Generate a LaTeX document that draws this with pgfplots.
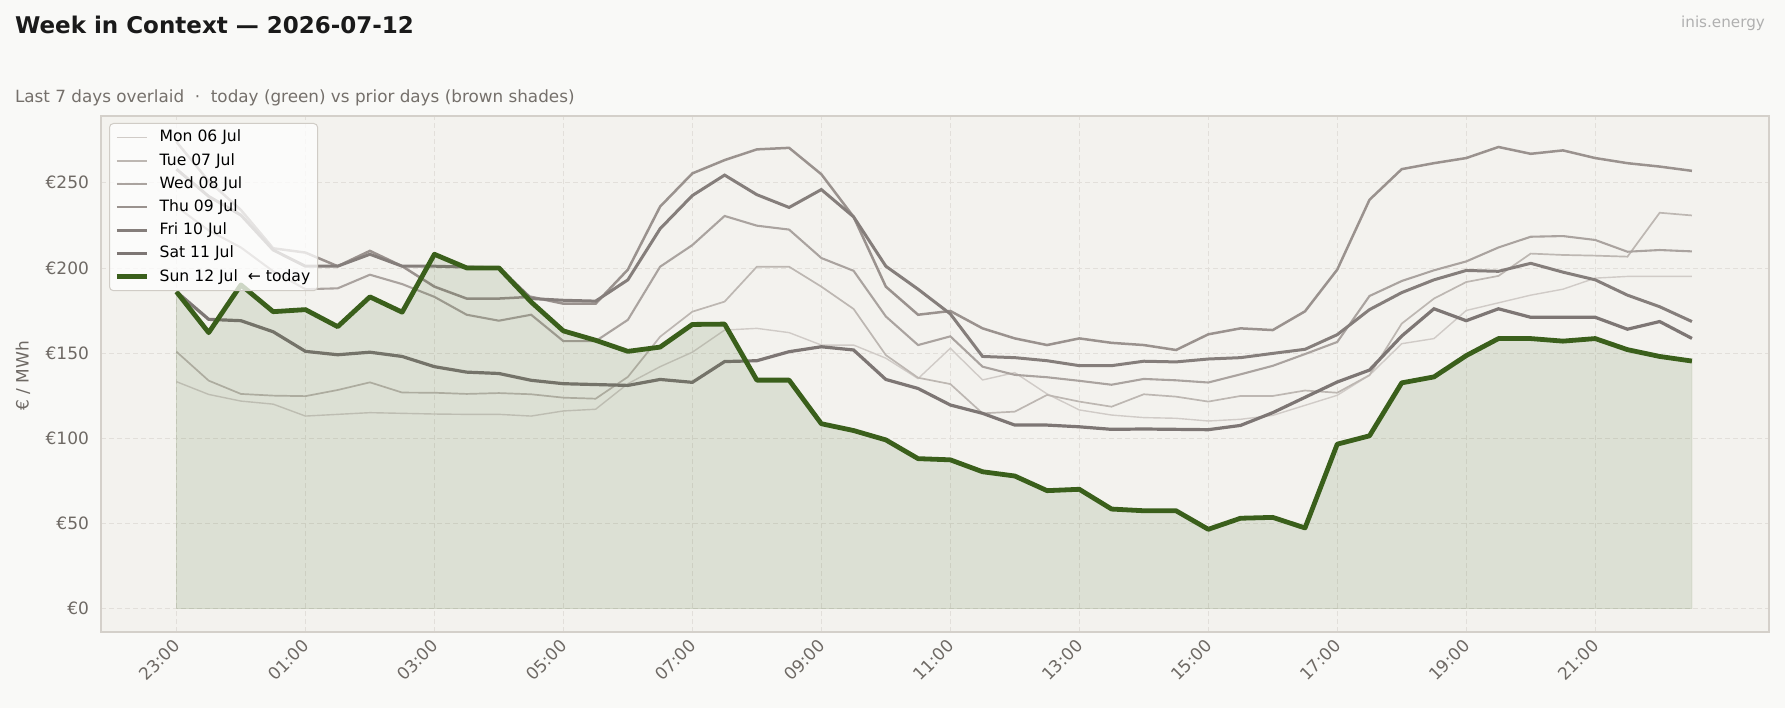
\documentclass[border=0pt]{standalone}
\usepackage{fontspec}
\setmainfont{DejaVu Sans}
\usepackage{pgfplots}
\pgfplotsset{compat=1.18}
\usepackage{pgfplotstable}

\definecolor{pagebg}{HTML}{F9F9F7}
\definecolor{axbg}{HTML}{F3F2EE}
\definecolor{framec}{HTML}{D4D0CA}
\definecolor{gridc}{HTML}{E2DFDA}
\definecolor{ticklbl}{HTML}{6E6964}
\definecolor{titlec}{HTML}{1A1A1A}
\definecolor{subc}{HTML}{75706B}
\definecolor{markc}{HTML}{B0B0B0}
\definecolor{legframe}{HTML}{D0CCC6}
\definecolor{cmon}{HTML}{D0CBC7}
\definecolor{ctue}{HTML}{BDB7B2}
\definecolor{cwed}{HTML}{AAA39F}
\definecolor{cthu}{HTML}{9A928E}
\definecolor{cfri}{HTML}{857E7B}
\definecolor{csat}{HTML}{7D7674}
\definecolor{csun}{HTML}{3A5F1B}

% half-hourly prices, EUR/MWh; i = 0 is 23:00 of the previous evening
\pgfplotstableread{
i   mon    tue    wed    thu    fri    sat    sun
0   133.2  150.8  236.0  274.0  258.0  186.0  186.0
1   125.7  133.8  222.0  251.0  242.0  169.8  162.0
2   121.8  126.0  212.0  234.0  231.0  169.0  190.0
3   120.0  125.0  198.0  211.5  210.5  162.5  174.3
4   113.0  124.7  187.5  209.0  201.0  151.0  175.5
5   114.0  128.3  188.0  201.0  201.0  149.0  165.5
6   115.0  132.8  196.0  210.0  208.0  150.5  183.0
7   114.6  126.8  190.5  201.0  201.0  148.0  174.0
8   114.2  126.7  183.0  189.0  201.0  142.0  208.0
9   114.0  126.0  172.5  182.0  200.5  138.8  200.0
10  114.0  126.5  169.0  182.0  200.0  138.0  200.0
11  113.0  125.8  172.5  183.0  182.0  134.0  180.0
12  116.0  123.8  157.0  179.0  181.0  132.0  163.0
13  117.0  123.2  157.0  179.0  180.5  131.5  157.5
14  132.0  136.0  169.5  199.0  193.0  131.0  151.0
15  142.0  159.6  200.7  236.0  223.0  134.5  153.5
16  150.5  174.3  213.4  255.5  242.5  132.8  166.8
17  163.5  180.2  230.5  263.3  254.5  145.0  167.0
18  164.5  200.7  224.8  269.6  243.0  145.5  134.1
19  162.0  200.7  222.5  270.5  235.5  150.8  134.1
20  154.7  189.0  205.8  255.0  246.0  153.7  108.5
21  154.7  175.9  198.3  230.0  230.0  151.8  104.5
22  147.0  148.8  171.5  189.0  201.0  134.5   99.0
23  135.0  135.5  154.7  172.5  187.5  129.2   88.0
24  152.8  131.8  159.8  174.7  173.0  119.5   87.3
25  134.2  114.6  142.0  164.5  148.0  114.6   80.3
26  138.5  115.6  137.2  158.6  147.3  107.7   77.8
27  126.0  125.4  135.8  154.7  145.5  107.7   69.2
28  116.6  121.5  133.7  158.6  142.6  106.7   70.0
29  113.6  118.5  131.4  156.0  142.6  105.2   58.4
30  112.1  125.8  134.8  154.7  145.2  105.4   57.4
31  111.7  124.4  134.0  151.8  144.8  105.2   57.4
32  110.1  121.5  132.7  161.0  146.5  105.0   46.5
33  111.1  124.8  137.5  164.5  147.3  107.5   53.0
34  113.4  124.8  142.5  163.5  149.8  115.0   53.5
35  119.3  128.0  149.4  174.5  152.2  124.0   47.3
36  125.2  126.7  156.5  199.0  160.8  133.0   96.5
37  137.0  137.0  183.5  240.0  175.5  140.0  101.4
38  155.5  167.3  192.3  258.0  185.5  160.0  132.5
39  158.5  182.0  198.6  261.5  193.0  176.0  136.0
40  175.0  191.7  203.8  264.5  198.5  169.0  148.5
41  179.5  195.3  212.0  271.0  198.0  176.0  158.5
42  184.0  208.4  218.3  267.0  202.7  171.0  158.5
43  187.5  207.6  218.7  269.0  197.5  171.0  157.0
44  194.0  207.2  216.4  264.5  193.0  171.0  158.5
45  195.0  206.6  209.5  261.5  184.0  164.0  152.0
46  195.0  232.4  210.5  259.5  177.2  168.5  148.0
47  195.0  230.8  209.7  257.0  168.5  158.6  145.3
}\weekdata

\begin{document}
\begin{tikzpicture}
\useasboundingbox (0,0) rectangle (892.5pt,354pt);
\fill[pagebg] (0,0) rectangle (892.5pt,354pt);

\begin{axis}[
  at={(50.5pt,38pt)}, anchor=south west,
  scale only axis, width=834pt, height=258pt,
  xmin=-2.34, xmax=49.39, ymin=-13.8, ymax=289.2,
  axis background/.style={fill=axbg},
  axis line style={draw=framec, line width=0.6pt},
  xtick={0,4,...,44},
  xticklabels={23:00,01:00,03:00,05:00,07:00,09:00,11:00,13:00,15:00,17:00,19:00,21:00},
  ytick={0,50,...,250},
  yticklabels={€0,€50,€100,€150,€200,€250},
  major tick length=0pt,
  tick label style={font=\fontsize{8.5}{10}\selectfont, text=ticklbl},
  xticklabel style={rotate=45, anchor=north east, inner sep=1pt, xshift=-2.5pt, yshift=0.5pt},
  yticklabel style={xshift=-2.5pt},
  /pgf/number format/assume math mode=true,
  grid=major,
  grid style={draw=gridc, dash pattern=on 2.5pt off 1.5pt, line width=0.4pt},
  legend style={
    at={(0,1)}, anchor=north west, xshift=4pt, yshift=-3.5pt,
    fill=white, fill opacity=0.75, text opacity=1, draw=legframe,
    rounded corners=2pt, line width=0.5pt,
    font=\fontsize{7.8}{9}\selectfont,
    inner xsep=2.5pt, inner ysep=2pt, row sep=1.6pt,
    nodes={inner sep=1.2pt, text height=6pt, text depth=1.6pt},
  },
  legend cell align=left,
  legend image code/.code={\draw[#1] (0pt,0pt) -- (15pt,0pt); \path (19pt,0pt);},
]
\addplot[cmon, line width=0.7pt]  table[x=i, y=mon] {\weekdata};
\addlegendentry{Mon 06 Jul}
\addplot[ctue, line width=0.85pt] table[x=i, y=tue] {\weekdata};
\addlegendentry{Tue 07 Jul}
\addplot[cwed, line width=1.05pt] table[x=i, y=wed] {\weekdata};
\addlegendentry{Wed 08 Jul}
\addplot[cthu, line width=1.25pt] table[x=i, y=thu] {\weekdata};
\addlegendentry{Thu 09 Jul}
\addplot[cfri, line width=1.5pt]  table[x=i, y=fri] {\weekdata};
\addlegendentry{Fri 10 Jul}
\addplot[csat, line width=1.6pt]  table[x=i, y=sat] {\weekdata};
\addlegendentry{Sat 11 Jul}
% shaded area under today's curve
\addplot[forget plot, draw=csun, draw opacity=0.12, fill=csun, fill opacity=0.12]
  table[x=i, y=sun] {\weekdata} \closedcycle;
\addplot[csun, line width=2.4pt, line join=round] table[x=i, y=sun] {\weekdata};
\addlegendentry{Sun 12 Jul\ \ ← today}
\end{axis}

% titles and axis caption
\node[anchor=base west, font=\bfseries\fontsize{11.5}{13}\selectfont, text=titlec]
  at (4pt,337pt) {Week in Context — 2026-07-12};
\node[anchor=base west, font=\fontsize{8.4}{10}\selectfont, text=subc]
  at (4pt,302.8pt) {Last 7 days overlaid\ \ ·\ \ today (green) vs prior days (brown shades)};
\node[anchor=base east, font=\fontsize{7.6}{9}\selectfont, text=markc]
  at (886pt,340pt) {inis.energy};
\node[rotate=90, font=\fontsize{8.5}{10}\selectfont, text=ticklbl]
  at (11.5pt,166pt) {€ / MWh};
\end{tikzpicture}
\end{document}
